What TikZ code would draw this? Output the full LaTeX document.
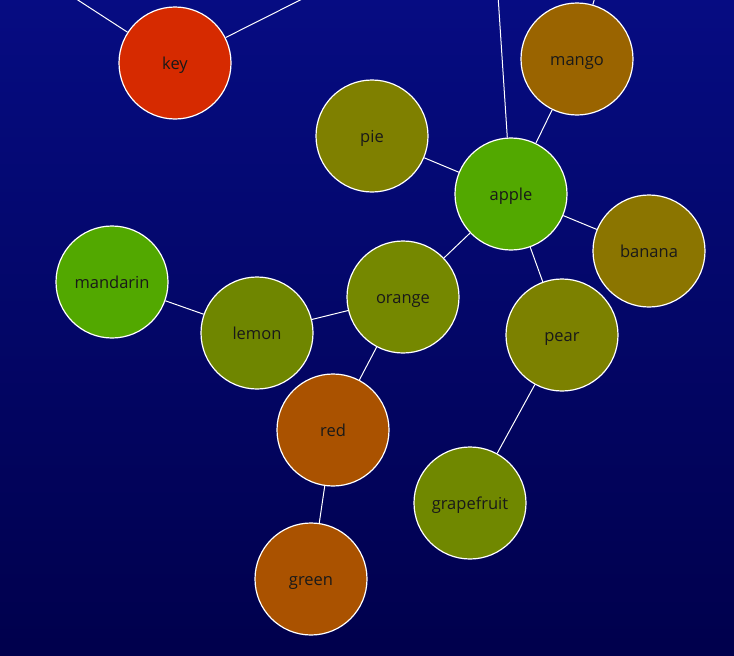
\documentclass[tikz,border=0pt]{standalone}
\usepackage{fontspec}
\setmainfont{Open Sans}
\definecolor{bgtop}{HTML}{060C82}
\definecolor{bgbottom}{HTML}{00004C}
\definecolor{keycolor}{HTML}{D62A00}
\definecolor{mangocolor}{HTML}{9A6400}
\definecolor{piecolor}{HTML}{7F8000}
\definecolor{applecolor}{HTML}{52A800}
\definecolor{bananacolor}{HTML}{8B7500}
\definecolor{lemoncolor}{HTML}{6F8600}
\definecolor{orangecolor}{HTML}{758800}
\definecolor{pearcolor}{HTML}{7C8100}
\definecolor{redcolor}{HTML}{AA5200}
\definecolor{fruitcolor}{HTML}{708800}
\tikzset{
  fruit/.style={circle,draw=white,line width=1.2pt,minimum size=112pt,inner sep=0pt,
    text=black!90,font=\fontsize{16.5}{19}\selectfont,text height=13pt,text depth=0pt},
  link/.style={draw=white,line width=1pt}
}
\begin{document}
\begin{tikzpicture}[x=1pt,y=-1pt]
  \shade[top color=bgtop,bottom color=bgbottom] (0,0) rectangle (734,656);
  \useasboundingbox (0,0) rectangle (734,656);
  \clip (0,0) rectangle (734,656);
  \node[fruit,fill=keycolor] (key) at (175,63) {key};
  \node[fruit,fill=mangocolor] (mango) at (577,59) {mango};
  \node[fruit,fill=piecolor] (pie) at (372,136) {pie};
  \node[fruit,fill=applecolor] (apple) at (511,194) {apple};
  \node[fruit,fill=bananacolor] (banana) at (649,251) {banana};
  \node[fruit,fill=applecolor] (mandarin) at (112,282) {mandarin};
  \node[fruit,fill=lemoncolor] (lemon) at (257,333) {lemon};
  \node[fruit,fill=orangecolor] (orange) at (403,297) {orange};
  \node[fruit,fill=pearcolor] (pear) at (562,335) {pear};
  \node[fruit,fill=redcolor] (red) at (333,430) {red};
  \node[fruit,fill=fruitcolor] (grapefruit) at (470,503) {grapefruit};
  \node[fruit,fill=redcolor] (green) at (311,579) {green};
  % ends outside the frame
  \coordinate (keyout1) at (47,-20);
  \coordinate (keyout2) at (340,-20);
  \coordinate (appleout) at (497,-20);
  \coordinate (mangoout) at (600,-20);
  \draw[link] (key) -- (keyout1);
  \draw[link] (key) -- (keyout2);
  \draw[link] (apple) -- (appleout);
  \draw[link] (mango) -- (mangoout);
  \draw[link] (apple) -- (mango);
  \draw[link] (pie) -- (apple);
  \draw[link] (apple) -- (banana);
  \draw[link] (apple) -- (orange);
  \draw[link] (apple) -- (pear);
  \draw[link] (mandarin) -- (lemon);
  \draw[link] (lemon) -- (orange);
  \draw[link] (orange) -- (red);
  \draw[link] (red) -- (green);
  \draw[link] (pear) -- (grapefruit);
\end{tikzpicture}
\end{document}
